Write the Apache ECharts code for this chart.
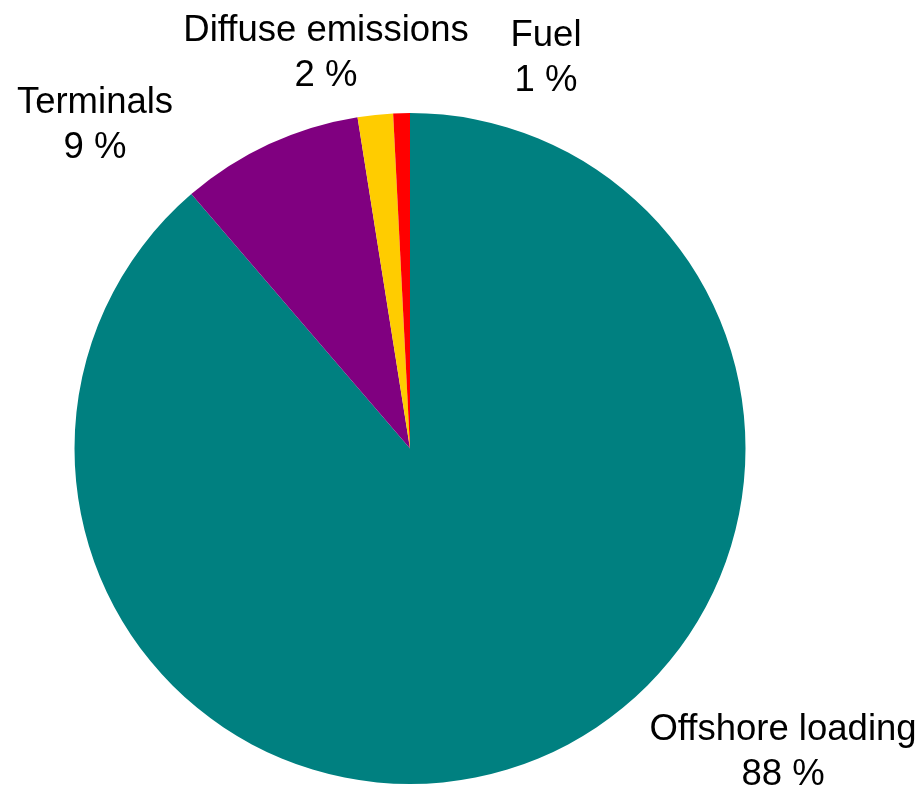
<!DOCTYPE html>
<html>
<head>
<meta charset="utf-8">
<script src="https://cdn.jsdelivr.net/npm/echarts@6/dist/echarts.min.js"></script>
<style>
html,body{margin:0;padding:0;background:#fff;}
#chart{width:922px;height:790px;}
</style>
</head>
<body>
<div id="chart"></div>
<script>
// Data
const categories = ["Offshore loading", "Terminals", "Diffuse emissions", "Fuel"];
const values = [88.7, 8.8, 1.7, 0.8];
const percentLabels = ["88 %", "9 %", "2 %", "1 %"];

// Styles
const colors = ["#008080", "#800080", "#FFCC00", "#FF0000"];
const labelAnchors = [[783, 752], [95, 125], [326, 53], [546, 58]];

const chart = echarts.init(document.getElementById('chart'), null, {renderer: 'canvas'});
chart.setOption({
  backgroundColor: '#ffffff',
  animation: false,
  series: [{
    type: 'pie',
    center: [410, 448.5],
    radius: 335.5,
    startAngle: 90,
    clockwise: true,
    avoidLabelOverlap: false,
    itemStyle: {borderWidth: 0},
    emphasis: {disabled: true},
    label: {
      show: true,
      position: 'outside',
      color: '#000',
      fontFamily: 'Liberation Sans, Arial, sans-serif',
      fontSize: 36.5,
      lineHeight: 45,
      align: 'center',
      formatter: p => categories[p.dataIndex] + '\n' + percentLabels[p.dataIndex]
    },
    labelLine: {show: false},
    labelLayout: p => ({
      x: labelAnchors[p.dataIndex][0],
      y: labelAnchors[p.dataIndex][1],
      align: 'center',
      verticalAlign: 'middle'
    }),
    data: categories.map((c, i) => ({name: c, value: values[i], itemStyle: {color: colors[i]}}))
  }]
});
</script>
</body>
</html>
